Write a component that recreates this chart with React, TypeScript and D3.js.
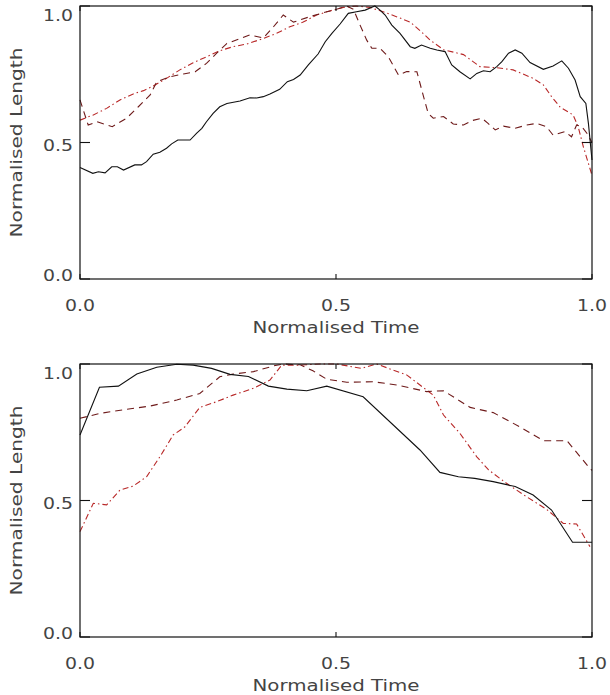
import React from "react";
import * as d3 from "d3";

type Pt = [number, number];

// ---------- Top panel series (normalised time, normalised length) ----------
const topSolid: Pt[] = [
  [0, 0.408], [0.025, 0.387], [0.036, 0.393], [0.049, 0.389], [0.062, 0.411], [0.073, 0.411],
  [0.085, 0.399], [0.107, 0.418], [0.12, 0.418], [0.13, 0.43], [0.143, 0.457], [0.156, 0.464],
  [0.169, 0.479], [0.179, 0.495], [0.191, 0.509], [0.215, 0.509], [0.228, 0.534], [0.238, 0.552],
  [0.247, 0.576], [0.26, 0.607], [0.273, 0.631], [0.287, 0.643], [0.3125, 0.652], [0.332, 0.664],
  [0.345, 0.663], [0.358, 0.668], [0.371, 0.678], [0.39, 0.695], [0.405, 0.723], [0.417, 0.731],
  [0.43, 0.747], [0.446, 0.784], [0.465, 0.824], [0.479, 0.869], [0.492, 0.9], [0.508, 0.934],
  [0.524, 0.973], [0.54, 0.979], [0.557, 0.985], [0.57, 0.995], [0.576, 1.0], [0.586, 0.985],
  [0.596, 0.967], [0.609, 0.93], [0.625, 0.9], [0.645, 0.851], [0.654, 0.845], [0.667, 0.857],
  [0.684, 0.845], [0.697, 0.839], [0.713, 0.833], [0.726, 0.784], [0.742, 0.759], [0.762, 0.733],
  [0.775, 0.753], [0.788, 0.763], [0.801, 0.759], [0.814, 0.778], [0.824, 0.796], [0.837, 0.827],
  [0.85, 0.839], [0.863, 0.827], [0.879, 0.793], [0.905, 0.768], [0.924, 0.78], [0.941, 0.799],
  [0.954, 0.772], [0.967, 0.729], [0.977, 0.668], [0.988, 0.643], [0.993, 0.57], [1.0, 0.436],
];

const topDashed: Pt[] = [
  [0, 0.656], [0.016, 0.564], [0.033, 0.576], [0.063, 0.558], [0.091, 0.589], [0.114, 0.631],
  [0.137, 0.674], [0.15, 0.723], [0.176, 0.741], [0.202, 0.751], [0.225, 0.759], [0.247, 0.79],
  [0.267, 0.827], [0.287, 0.863], [0.3125, 0.88], [0.332, 0.894], [0.358, 0.883], [0.378, 0.924],
  [0.397, 0.967], [0.417, 0.941], [0.449, 0.961], [0.482, 0.979], [0.501, 0.988], [0.521, 1.0],
  [0.534, 0.988], [0.547, 0.93], [0.56, 0.875], [0.57, 0.845], [0.586, 0.845], [0.602, 0.815],
  [0.622, 0.747], [0.638, 0.76], [0.658, 0.759], [0.671, 0.668], [0.68, 0.607], [0.69, 0.589],
  [0.71, 0.595], [0.729, 0.568], [0.749, 0.564], [0.765, 0.58], [0.785, 0.589], [0.797, 0.57],
  [0.811, 0.546], [0.827, 0.56], [0.85, 0.552], [0.872, 0.564], [0.892, 0.57], [0.911, 0.558],
  [0.924, 0.527], [0.947, 0.54], [0.96, 0.521], [0.97, 0.564], [0.98, 0.558], [0.99, 0.534],
  [1.0, 0.5],
];

const topDashDot: Pt[] = [
  [0, 0.582], [0.026, 0.601], [0.052, 0.625], [0.078, 0.656], [0.104, 0.678], [0.124, 0.69],
  [0.143, 0.707], [0.169, 0.735], [0.195, 0.766], [0.221, 0.792], [0.247, 0.814], [0.273, 0.836],
  [0.299, 0.851], [0.326, 0.861], [0.358, 0.881], [0.384, 0.9], [0.41, 0.924], [0.436, 0.941],
  [0.462, 0.967], [0.488, 0.982], [0.514, 0.995], [0.54, 1.0], [0.566, 0.995], [0.592, 0.979],
  [0.618, 0.961], [0.645, 0.941], [0.664, 0.91], [0.684, 0.875], [0.71, 0.84], [0.749, 0.822],
  [0.781, 0.778], [0.814, 0.774], [0.846, 0.766], [0.885, 0.735], [0.905, 0.711], [0.921, 0.668],
  [0.938, 0.629], [0.963, 0.601], [0.973, 0.558], [0.983, 0.485], [1.0, 0.38],
];

// ---------- Bottom panel series ----------
const botSolid: Pt[] = [
  [0, 0.74], [0.038, 0.915], [0.075, 0.919], [0.111, 0.963], [0.15, 0.988], [0.189, 0.999],
  [0.221, 0.996], [0.257, 0.984], [0.293, 0.962], [0.329, 0.954], [0.368, 0.919], [0.404, 0.908],
  [0.443, 0.902], [0.482, 0.919], [0.553, 0.88], [0.664, 0.685], [0.703, 0.603], [0.739, 0.587],
  [0.771, 0.581], [0.807, 0.569], [0.85, 0.551], [0.885, 0.52], [0.921, 0.465], [0.962, 0.347],
  [1.0, 0.347],
];

const botDashed: Pt[] = [
  [0, 0.801], [0.039, 0.819], [0.091, 0.834], [0.137, 0.846], [0.189, 0.868], [0.234, 0.892],
  [0.273, 0.953], [0.299, 0.963], [0.339, 0.972], [0.378, 0.993], [0.397, 1.0], [0.43, 0.997],
  [0.455, 0.975], [0.482, 0.944], [0.521, 0.933], [0.573, 0.935], [0.619, 0.923], [0.677, 0.899],
  [0.71, 0.902], [0.762, 0.841], [0.807, 0.822], [0.859, 0.77], [0.905, 0.719], [0.951, 0.719],
  [0.993, 0.624], [1.0, 0.61],
];

const botDashDot: Pt[] = [
  [0, 0.386], [0.026, 0.49], [0.052, 0.484], [0.078, 0.538], [0.104, 0.553], [0.13, 0.587],
  [0.156, 0.66], [0.182, 0.74], [0.205, 0.77], [0.234, 0.841], [0.267, 0.862], [0.299, 0.886],
  [0.339, 0.911], [0.371, 0.941], [0.394, 0.996], [0.43, 0.996], [0.469, 1.0], [0.501, 1.0],
  [0.55, 0.984], [0.579, 1.0], [0.638, 0.96], [0.664, 0.923], [0.69, 0.886], [0.71, 0.813],
  [0.742, 0.746], [0.775, 0.66], [0.798, 0.612], [0.833, 0.563], [0.872, 0.514], [0.911, 0.468],
  [0.944, 0.416], [0.97, 0.414], [0.996, 0.331],
];

const xTicks = [0, 0.5, 1.0];
const yTicks = [0, 0.5, 1.0];
const xTitle = "Normalised Time";
const yTitle = "Normalised Length";

const FONT = "'DejaVu Sans', 'Liberation Sans', sans-serif";
const TEXT_COLOR = "#444";

type PanelProps = {
  top: number;
  solid: Pt[];
  dashed: Pt[];
  dashdot: Pt[];
};

const LEFT = 80;
const RIGHT = 592;
const PH = 273;

function Panel({ top, solid, dashed, dashdot }: PanelProps) {
  const x = d3.scaleLinear().domain([0, 1]).range([LEFT, RIGHT]);
  const y = d3.scaleLinear().domain([0, 1]).range([top + PH, top]);
  const line = d3
    .line<Pt>()
    .x((d) => x(d[0]))
    .y((d) => y(d[1]));
  const bottom = top + PH;
  return (
    <g>
      <path d={line(dashdot) || ""} fill="none" stroke="#b82828" strokeWidth={1.1} strokeDasharray="6,3,1.5,3" />
      <path d={line(dashed) || ""} fill="none" stroke="#6e1a1a" strokeWidth={1.1} strokeDasharray="7,5" />
      <path d={line(solid) || ""} fill="none" stroke="#111" strokeWidth={1.1} />
      <rect x={LEFT} y={top} width={RIGHT - LEFT} height={PH} fill="none" stroke="#111" strokeWidth={1.2} />
      {yTicks.map((t) => (
        <g key={"y" + t}>
          <line x1={LEFT} x2={LEFT + 10} y1={y(t)} y2={y(t)} stroke="#111" strokeWidth={1.1} />
          <line x1={RIGHT - 10} x2={RIGHT} y1={y(t)} y2={y(t)} stroke="#111" strokeWidth={1.1} />
          <text
            x={73}
            y={y(t) + (-4 + 13 * t)}
            dominantBaseline="central"
            textAnchor="end"
            fontFamily={FONT}
            fontSize={16.5}
            fill={TEXT_COLOR}
            textLength={30}
            lengthAdjust="spacingAndGlyphs"
          >
            {t.toFixed(1)}
          </text>
        </g>
      ))}
      {xTicks.map((t) => (
        <g key={"x" + t}>
          <line x1={x(t)} x2={x(t)} y1={bottom} y2={bottom - 5} stroke="#111" strokeWidth={1.1} />
          <line x1={x(t)} x2={x(t)} y1={top} y2={top + 5} stroke="#111" strokeWidth={1.1} />
          <text
            x={x(t)}
            y={bottom + 32}
            textAnchor="middle"
            fontFamily={FONT}
            fontSize={16.5}
            fill={TEXT_COLOR}
            textLength={30}
            lengthAdjust="spacingAndGlyphs"
          >
            {t.toFixed(1)}
          </text>
        </g>
      ))}
      <text
        x={(LEFT + RIGHT) / 2}
        y={bottom + 54}
        textAnchor="middle"
        fontFamily={FONT}
        fontSize={16.5}
        fill={TEXT_COLOR}
        textLength={167}
        lengthAdjust="spacingAndGlyphs"
      >
        {xTitle}
      </text>
      <text
        transform={`translate(22, ${top + PH / 2}) rotate(-90)`}
        textAnchor="middle"
        fontFamily={FONT}
        fontSize={16.5}
        fill={TEXT_COLOR}
        textLength={190}
        lengthAdjust="spacingAndGlyphs"
      >
        {yTitle}
      </text>
    </g>
  );
}

export default function App() {
  return (
    <svg
      width={610}
      height={695}
      viewBox="0 0 610 695"
      style={{ position: "absolute", left: 0, top: 0, background: "#fff" }}
    >
      <rect x={0} y={0} width={610} height={695} fill="#fff" />
      <Panel top={6} solid={topSolid} dashed={topDashed} dashdot={topDashDot} />
      <Panel top={364} solid={botSolid} dashed={botDashed} dashdot={botDashDot} />
    </svg>
  );
}
